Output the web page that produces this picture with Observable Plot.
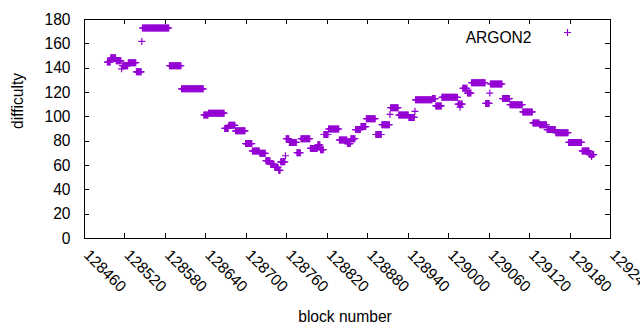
<!DOCTYPE html>
<html><head><meta charset="utf-8">
<script src="https://cdn.jsdelivr.net/npm/d3@7"></script>
<script src="https://cdn.jsdelivr.net/npm/@observablehq/plot@0.6"></script>
<style>body{margin:0;background:#fff} #chart{width:640px;height:330px}</style>
</head><body><div id="chart"></div>
<script>
// Run-length encoded difficulty per block: each run starts at runStart[i] with value runValue[i]
const runStart = [128494,128499,128507,128515,128516,128525,128537,128545,128546,128586,
  128604,128637,128644,128668,128674,128684,128699,128709,128720,128729,
  128736,128742,128748,128751,128758,128759,128764,128775,128781,128795,
  128806,128810,128815,128822,128838,128850,128855,128862,128870,128878,
  128892,128901,128913,128914,128926,128941,128950,128951,128976,128981,
  128990,129014,129017,129018,129021,129028,129034,129055,129061,129062,
  129080,129091,129110,129125,129135,129146,129159,129178,129198,129209,
  129212,129213];
const runValue = [145,148.5,146,139.5,142,144.5,137,162,173,142,
  123,101.5,103,90.5,93,88.5,78,72,70,64,
  61,58.5,56,63,68,82,79,70.5,82,74,
  77,73,85.5,90,81,78,82,89.5,92,98.5,
  85.5,93.5,102,107.5,101.5,99.5,104.5,114,115,109,
  116,110.5,108,110.5,123.5,119.5,128,111,119.5,127,
  115,110,104,95,93.5,89.5,87,79,72,69,
  67.5,69];
const lastBlock = 129215;
const xTicks = [128460,128520,128580,128640,128700,128760,128820,128880,128940,129000,129060,129120,129180,129240];
const yTicks = [0,20,40,60,80,100,120,140,160,180];
const seriesName = "ARGON2";
const xLabel = "block number";
const yLabel = "difficulty";

const points = [];
for (let i = 0; i < runStart.length; i++) {
  const end = i + 1 < runStart.length ? runStart[i + 1] - 1 : lastBlock;
  for (let b = runStart[i]; b <= end; b++) points.push({block: b, difficulty: runValue[i]});
}

const plusSymbol = {draw(ctx, size) {
  const r = Math.sqrt(size / Math.PI);
  ctx.moveTo(-r, 0); ctx.lineTo(r, 0);
  ctx.moveTo(0, -r); ctx.lineTo(0, r);
}};
const color = "#9400d3";
const H = 330, W = 640, mL = 84, mR = 30, mT = 19, mB = 92;
const innerW = W - mL - mR, innerH = H - mT - mB;
const tk = 5;

const chart = Plot.plot({
  width: W, height: H, marginLeft: mL, marginRight: mR, marginTop: mT, marginBottom: mB,
  style: {fontFamily: "'Liberation Sans', Arial, sans-serif", fontSize: "15.6px", background: "#fff", color: "#000"},
  x: {domain: [128460, 129240], axis: null},
  y: {domain: [0, 180], axis: null},
  marks: [
    Plot.tickX(xTicks, {x: d => d, insetTop: innerH - tk, stroke: "#000", shapeRendering: "crispEdges"}),
    Plot.tickX(xTicks, {x: d => d, insetBottom: innerH - tk, stroke: "#000", shapeRendering: "crispEdges"}),
    Plot.tickY(yTicks, {y: d => d, insetRight: innerW - tk, stroke: "#000", shapeRendering: "crispEdges"}),
    Plot.tickY(yTicks, {y: d => d, insetLeft: innerW - tk, stroke: "#000", shapeRendering: "crispEdges"}),
    Plot.dot(points, {x: "block", y: "difficulty", symbol: plusSymbol, r: 3.5, stroke: color, fill: "none", strokeWidth: 1.2}),
    Plot.frame({stroke: "#000", shapeRendering: "crispEdges"}),
    Plot.text(yTicks, {y: d => d, text: d => String(d), frameAnchor: "left", textAnchor: "end", dx: -14, fill: "#000"}),
    Plot.text(xTicks, {x: d => d, text: d => String(d), frameAnchor: "bottom", rotate: 45, textAnchor: "start", lineAnchor: "middle", dx: 2, dy: 14, fill: "#000"}),
    Plot.text([xLabel], {frameAnchor: "bottom", dx: -2.5, dy: 83, fill: "#000"}),
    Plot.text([yLabel], {frameAnchor: "left", rotate: -90, dx: -67, fill: "#000"}),
    Plot.text([seriesName], {frameAnchor: "top-right", textAnchor: "end", dx: -79, dy: 12, fill: "#000"}),
    Plot.dot([0], {frameAnchor: "top-right", dx: -43, dy: 13, symbol: plusSymbol, r: 3.5, stroke: color, fill: "none", strokeWidth: 1.2})
  ]
});
document.getElementById("chart").appendChild(chart);
</script>
</body></html>
